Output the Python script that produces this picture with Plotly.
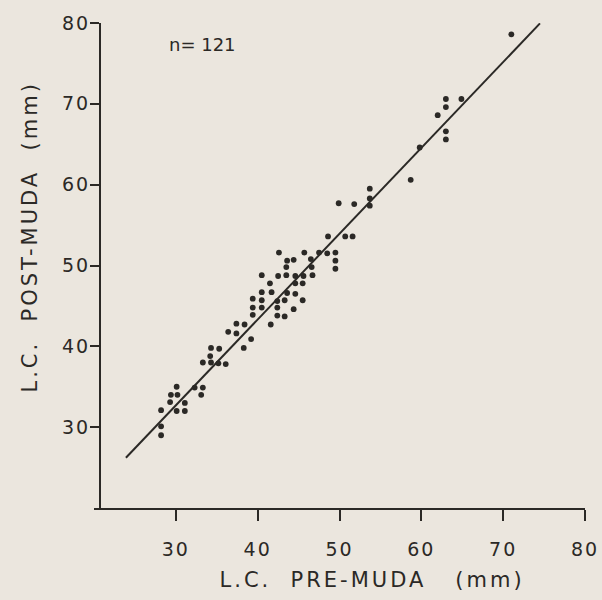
import plotly.graph_objects as go

# Pre-moult carapace length (mm) and post-moult carapace length (mm)
pre_muda = [71.0, 63.0, 64.9, 63.0, 62.0, 63.0, 63.0, 59.8, 58.7, 53.7,
            53.7, 53.7, 49.9, 51.8, 48.6, 50.7, 51.6, 45.7, 47.5, 48.5,
            49.5, 49.5, 49.5, 46.5, 46.6, 46.7, 45.6, 42.6, 43.6, 44.4,
            43.5, 40.5, 42.5, 43.5, 44.6, 41.5, 44.6, 45.5, 40.5, 41.7,
            43.6, 44.6, 39.4, 40.5, 42.4, 43.3, 45.5, 39.4, 40.5, 42.4,
            44.4, 39.4, 42.4, 43.3, 37.4, 38.4, 41.6, 36.4, 37.4, 39.2,
            34.3, 35.3, 38.3, 34.2, 33.3, 34.3, 35.2, 36.1, 30.1, 29.4,
            30.2, 32.3, 33.3, 33.1, 31.1, 29.3, 28.2, 30.1, 31.1, 28.2,
            28.2]
post_muda = [78.6, 70.6, 70.6, 69.6, 68.6, 66.6, 65.6, 64.6, 60.6, 59.5,
             58.3, 57.4, 57.7, 57.6, 53.6, 53.6, 53.6, 51.6, 51.6, 51.5,
             51.6, 50.6, 49.6, 50.8, 49.8, 48.8, 48.7, 51.6, 50.6, 50.7,
             49.8, 48.8, 48.7, 48.8, 48.7, 47.8, 47.8, 47.8, 46.7, 46.7,
             46.6, 46.5, 45.9, 45.7, 45.6, 45.7, 45.7, 44.8, 44.8, 44.8,
             44.6, 43.9, 43.8, 43.7, 42.8, 42.7, 42.7, 41.8, 41.6, 40.9,
             39.8, 39.7, 39.8, 38.8, 38.0, 38.0, 37.9, 37.8, 35.0, 34.0,
             34.0, 34.9, 34.9, 34.0, 33.0, 33.1, 32.1, 32.0, 32.0, 30.1,
             29.0]

# Fitted regression line
fit_intercept = 0.83
fit_slope = 1.062
fit_x = [23.9, 74.5]
fit_y = [fit_intercept + fit_slope * v for v in fit_x]

tick_vals = [30, 40, 50, 60, 70, 80]
tick_text = ["30", "40", "50", "60", "70", "80"]

ink = "#2b2926"
paper = "#ebe6de"
font_family = "DejaVu Sans"

W, H = 602, 600
ML, MR, MT, MB = 94, 17, 23, 92
PW, PH = W - ML - MR, H - MT - MB


def px_to_paper(px, py):
    return (px - ML) / PW, (H - MB - py) / PH


fig = go.Figure()
fig.add_trace(go.Scatter(x=fit_x, y=fit_y, mode="lines",
                         line=dict(color=ink, width=2), hoverinfo="skip",
                         showlegend=False))
fig.add_trace(go.Scatter(x=pre_muda, y=post_muda, mode="markers",
                         marker=dict(color=ink, size=5.8), showlegend=False,
                         cliponaxis=False))

xt_x, xt_y = px_to_paper(372, 580)
yt_x, yt_y = px_to_paper(30, 237)
n_x, n_y = px_to_paper(202, 45)
yaxis_pos, _ = px_to_paper(100, 0)

fig.update_layout(
    width=W, height=H, autosize=False,
    margin=dict(l=ML, r=MR, t=MT, b=MB, autoexpand=False),
    paper_bgcolor=paper, plot_bgcolor=paper,
    font=dict(family=font_family, color=ink, size=19),
    xaxis=dict(range=[20, 80], tickvals=tick_vals, ticktext=tick_text,
               automargin=False,
               showgrid=False, zeroline=False, showline=True,
               linecolor=ink, linewidth=2, ticks="outside", ticklen=11,
               tickwidth=2, tickcolor=ink, ticklabelstandoff=12,
               tickfont=dict(size=19, family=font_family, color=ink)),
    yaxis=dict(range=[20, 80], tickvals=tick_vals, ticktext=tick_text,
               automargin=False, anchor="free", position=yaxis_pos,
               showgrid=False, zeroline=False, showline=True,
               linecolor=ink, linewidth=2, ticks="outside", ticklen=9,
               tickwidth=2, tickcolor=ink, ticklabelstandoff=-4,
               tickfont=dict(size=19, family=font_family, color=ink)),
    annotations=[
        dict(text="n= 121", x=n_x, y=n_y, xref="paper", yref="paper",
             xanchor="center", yanchor="middle",
             showarrow=False, font=dict(size=18, family=font_family, color=ink)),
        dict(text="L.C.  PRE-MUDA   (mm)", x=xt_x, y=xt_y,
             xref="paper", yref="paper", xanchor="center", yanchor="middle",
             showarrow=False, font=dict(size=21, family=font_family, color=ink)),
        dict(text="L.C.  POST-MUDA  (mm)", x=yt_x, y=yt_y, textangle=-90,
             xref="paper", yref="paper", xanchor="center", yanchor="middle",
             showarrow=False, font=dict(size=21, family=font_family, color=ink)),
    ],
)

post_js = (
    "document.body.style.margin='0';"
    "document.body.style.background='" + paper + "';"
    "var gd=document.getElementById('{plot_id}');"
    "gd.querySelectorAll('.annotation-text').forEach(function(e){"
    "e.style.letterSpacing=(e.textContent.indexOf('MUDA')>=0)?'3px':'0px';});"
    "gd.querySelectorAll('.xtick text, .ytick text').forEach(function(e){e.style.letterSpacing='2px';});"
)

fig.write_html("out.html", post_script=post_js,
               config={"responsive": False, "displayModeBar": False})
